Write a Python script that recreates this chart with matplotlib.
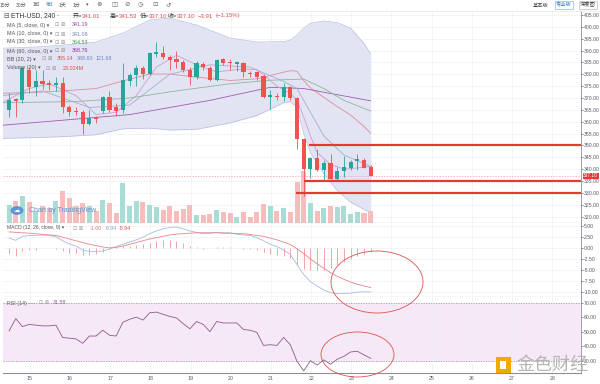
import matplotlib
matplotlib.use("Agg")
import matplotlib.pyplot as plt
from matplotlib.patches import Ellipse, Rectangle, Circle

plt.rcParams['font.family'] = ['Liberation Sans', 'Noto Sans CJK SC', 'DejaVu Sans']

## candle data (4h)
opens = [365, 369.5, 369, 382, 374.5, 377, 376.2, 375.5, 376.2, 366,
         364.7, 364.3, 359.2, 361.8, 364.7, 370.3, 366, 365, 377, 379.6,
         382.5, 380, 388.5, 389, 387.2, 386.4, 385, 382, 378.7, 384.2,
         382.5, 377.5, 386.4, 385, 384.4, 384.6, 380.5, 380.8, 379.2, 370.5,
         371, 370.3, 374.5, 369.8, 352.5, 340.2, 344.8, 339.7, 342.7, 336,
         339, 340.6, 343.6, 344, 341.01]
highs = [372, 370, 383, 383, 382, 382, 377.5, 379, 379, 367,
         366, 365, 365, 362.5, 371, 373, 368, 384.7, 380.5, 384,
         383.5, 389.5, 393.6, 392, 388, 390, 386, 383, 385.5, 385,
         383.5, 386.5, 387, 386.5, 385.5, 385.2, 381.5, 381.5, 380, 373.2,
         372, 376.3, 375, 370.5, 353, 345, 348.6, 344, 346.5, 341,
         345.5, 344, 346.5, 344.5, 341.53]
lows = [362, 362, 368, 372, 371, 373.6, 373.5, 373, 363.5, 362.5,
        363, 355, 358.5, 359.5, 363.6, 364, 362.5, 363.5, 375, 375,
        378, 379.5, 387.5, 386.5, 382, 382.8, 381, 375.3, 378, 381.8,
        377, 377, 384, 382, 381.5, 378.7, 379, 377.5, 370, 365.2,
        369, 368.7, 369, 348.6, 328.7, 336.4, 339, 335.5, 335.8, 335.5,
        336.5, 339.5, 339.8, 340.5, 337.1]
closes = [369, 368.8, 382.5, 374.5, 377, 375.8, 375.3, 376.5, 366, 364.3,
          364.2, 359.2, 361.4, 361, 370.3, 365, 364.7, 377.5, 379.6, 382.5,
          380, 389, 389.3, 387.2, 386, 385, 382, 378.7, 384.6, 383,
          377.5, 386, 384.6, 384.6, 385, 380.8, 380.2, 378.7, 370.3, 371.2,
          370.5, 374.5, 369.8, 352.5, 340.2, 344.8, 339.7, 342.7, 336, 339.3,
          341, 343.1, 344.4, 340.6, 337.1]
volumes = [18, 22, 27, 21, 12, 17, 15, 22, 32, 25, 17, 20, 17, 12, 23, 20, 10, 40, 17, 22,
           21, 18, 16, 13, 17, 12, 14, 18, 8, 8, 9, 13, 11, 10, 6, 11, 6, 11, 19, 17,
           12, 15, 11, 41, 52, 20, 12, 15, 17, 16, 17, 9, 11, 10, 12]

## bollinger bands (20, 2), sampled along the chart
bb_idx = [-1, 4, 8, 13, 17, 21, 24, 28, 33, 37, 41, 42, 43, 44, 45, 47, 49, 51, 53, 54]
bb_upper = [391, 391.5, 392.3, 393.6, 397.4, 402.9, 403.7, 400.8, 395.3, 393.6,
            393.8, 394.4, 396.5, 399.5, 401.5, 402.5, 401.8, 399.5, 393, 388.6]
bb_lower = [353, 353.3, 353.7, 354.5, 357, 357.3, 356.5, 356.8, 359.5, 362.6,
            368, 368.5, 366, 355, 347, 338, 331, 326, 323, 321.7]
bb_basis = [372, 372.4, 373, 374, 377.2, 380.1, 380.1, 378.8, 377.4, 378.1,
            380.9, 381.5, 381.3, 377.3, 374.3, 370.3, 366.4, 362.8, 358, 355.1]

## moving averages
ma5_idx = [-1, 3, 6, 10, 13, 16, 19, 22, 25, 28, 31, 34, 37, 40, 42, 43, 44, 45, 46, 48, 50, 52, 54]
ma5 = [368, 374, 376, 371, 363, 364, 371, 383, 388, 384, 381, 382, 382, 375, 372, 369, 362, 354, 347, 342, 340, 340.5, 341.2]
ma10_idx = [-1, 5, 12, 18, 24, 30, 36, 41, 43, 45, 47, 50, 54]
ma10 = [371, 373, 366, 367, 380, 384, 383, 377, 374, 364, 354, 346, 341.1]
ma30_idx = [-1, 10, 18, 25, 33, 39, 44, 47, 50, 54]
ma30 = [368, 368.5, 370, 373, 376, 377.5, 378, 374, 369, 364.5]
ma60_idx = [-1, 18, 30, 39, 44, 54]
ma60 = [358.5, 363, 369, 374.5, 374, 368.8]

## MACD (12, 26, 9)
macd = [2.2, 1.7, 2.6, 2.8, 2.8, 2.9, 2.8, 2.5, 1.6, 0.9, 0.4, -0.5, -0.8, -0.8, -0.7, -0.3, 0.3, 0.8, 1.3, 1.8,
        2.4, 3.2, 3.8, 4.3, 4.6, 4.7, 4.3, 3.8, 3.5, 3.2, 3.3, 3.5, 3.4, 3.4, 3.1, 2.9, 2.8, 2.3, 1.6, 0.8,
        0.3, -0.5, -1.5, -3.8, -6.0, -7.6, -8.6, -9.5, -10.1, -10.3, -10.3, -10.2, -10.0, -9.9, -9.94]
signal = [3.6, 3.5, 3.4, 3.3, 3.2, 3.0, 2.9, 2.8, 2.4, 2.0, 1.6, 1.2, 0.8, 0.5, 0.2, 0.0, 0.1, 0.4, 0.8, 1.2,
          1.6, 2.0, 2.3, 2.6, 2.9, 3.1, 3.2, 3.3, 3.4, 3.4, 3.4, 3.4, 3.3, 3.3, 3.2, 3.2, 3.0, 2.8, 2.6, 2.2,
          1.8, 1.3, 0.75, -0.2, -1.3, -2.5, -3.6, -4.6, -5.6, -6.4, -7.1, -7.7, -8.2, -8.6, -8.94]
hist = [-1.4, -1.8, -0.8, -0.5, -0.4, -0.1, -0.1, -0.3, -0.8, -1.1, -1.2, -1.7, -1.6, -1.3, -0.9, -0.3, 0.2, 0.4, 0.5, 0.6,
        0.8, 1.2, 1.5, 1.7, 1.7, 1.6, 1.1, 0.5, 0.1, -0.2, -0.1, 0.1, 0.1, 0.1, -0.1, -0.3, -0.2, -0.5, -1.0, -1.4,
        -1.5, -1.8, -2.2, -3.6, -4.7, -5.1, -5.0, -4.9, -4.5, -3.9, -3.2, -2.5, -1.8, -1.3, -1.0]

## RSI (14)
rsi = [50.5, 59, 53.5, 55, 54.5, 54, 54, 54.5, 46, 45.5, 45, 42, 47, 47, 51, 47.5, 47, 56.5, 58.5, 60,
       58, 63, 63.5, 62, 60.5, 59.5, 55.5, 52, 57, 55, 50, 57, 56, 56, 56, 51.5, 51, 49.5, 40.5, 41,
       40.5, 46, 41, 29.5, 23, 30, 27, 30.5, 27.5, 31, 33, 36, 36.5, 34, 31.6]

days = [15, 16, 17, 18, 19, 20, 21, 22, 23, 24, 25, 26, 27, 28]
price_ticks = list(range(320, 406, 5))
macd_ticks = [5, 2.5, 0, -2.5, -5, -7.5, -10]
rsi_ticks = [70, 60, 50, 40, 30]
levels = [(350, 44.8), (335, 44.0), (330, 42.8)]   # price, start candle
last_price = 337.10

UP = '#26a69a'
DOWN = '#ef5350'
GRID = '#eef0f6'
AXC = '#555a66'

fig = plt.figure(figsize=(6, 3.84), dpi=100)

def fx(x):
    return x / 600.0

def fy(y):
    return 1 - y / 384.0

XMIN, XMAX = -0.9, 85.4
day_pos = [3.1 + 6 * (d - 15) for d in days]
idx = list(range(len(closes)))

def style_axis(a):
    a.set_xlim(XMIN, XMAX)
    a.yaxis.tick_right()
    a.tick_params(axis='y', labelsize=3.7, colors=AXC, length=1.5, width=0.5, pad=0.8)
    a.tick_params(axis='x', length=0, labelbottom=False)
    for s in ['top', 'left']:
        a.spines[s].set_visible(False)
    a.spines['right'].set_color('#8a8f9a')
    a.spines['right'].set_linewidth(0.6)
    a.spines['bottom'].set_color('#8a8f9a')
    a.spines['bottom'].set_linewidth(0.8)
    a.set_xticks(day_pos)
    a.grid(True, color=GRID, lw=0.5)
    a.set_axisbelow(True)

## ---------- main price panel ----------
ax = fig.add_axes([fx(3), fy(222.7), fx(578), fy(11) - fy(222.7)])
style_axis(ax)
ax.set_ylim(317.4, 406.7)
ax.set_yticks(price_ticks)
ax.set_yticklabels(['%.2f' % p for p in price_ticks])

ax.fill_between(bb_idx, bb_lower, bb_upper, color='#e3e4f3', lw=0, zorder=1)
ax.plot(bb_idx, bb_upper, color='#b9bde0', lw=0.5, zorder=1)
ax.plot(bb_idx, bb_lower, color='#b9bde0', lw=0.5, zorder=1)
ax.plot(bb_idx, bb_basis, color='#e08aa0', lw=0.6, zorder=2)
ax.plot(ma60_idx, ma60, color='#a05ab0', lw=0.6, zorder=2)
ax.plot(ma30_idx, ma30, color='#8fb59a', lw=0.6, zorder=2)
ax.plot(ma10_idx, ma10, color='#9fb0cc', lw=0.6, zorder=2)
ax.plot(ma5_idx, ma5, color='#c9a0c9', lw=0.6, zorder=2)

vol_top = 211.7
vcol = ['#a8dcd5' if c >= o else '#f7bdbd' for o, c in zip(opens, closes)]
ax.bar(idx, [v / vol_top for v in volumes], width=0.75, color=vcol,
       transform=ax.get_xaxis_transform(), zorder=2)

for i in idx:
    col = UP if closes[i] >= opens[i] else DOWN
    ax.vlines(i, lows[i], highs[i], color=col, lw=0.6, zorder=3)
    lo = min(opens[i], closes[i])
    hgt = max(abs(closes[i] - opens[i]), 0.35)
    ax.add_patch(Rectangle((i - 0.31, lo), 0.62, hgt, color=col, lw=0, zorder=4))

ax.axhline(last_price, color='#f19a9a', lw=0.5, ls=(0, (2, 2)), zorder=2)
for p, start in levels:
    ax.hlines(p, start, XMAX, color='#e53935', lw=1.6, zorder=5)
ax.annotate('%.2f' % last_price, xy=(1.004, last_price), xycoords=('axes fraction', 'data'),
            fontsize=3.5, color='white', va='center', ha='left',
            bbox=dict(boxstyle='square,pad=0.15', fc='#e53935', ec='none'), annotation_clip=False)

## ---------- MACD panel ----------
mx = fig.add_axes([fx(3), fy(297), fx(578), fy(222.7) - fy(297)])
style_axis(mx)
mx.set_ylim(-11.08, 5.67)
mx.set_yticks(macd_ticks)
mx.set_yticklabels(['%.2f' % v for v in macd_ticks])
mx.vlines(idx, 0, hist, color='#f2a5a5', lw=0.7)
mx.plot(idx, macd, color='#a9bbd6', lw=0.6)
mx.plot(idx, signal, color='#e98585', lw=0.6)

## ---------- RSI panel ----------
rx = fig.add_axes([fx(3), fy(373), fx(578), fy(297) - fy(373)])
style_axis(rx)
rx.set_ylim(21.5, 73.9)
rx.set_yticks(rsi_ticks)
rx.set_yticklabels(['%.2f' % v for v in rsi_ticks])
rx.axhspan(30, 70, color='#f6e8f6', lw=0, zorder=0)
rx.axhline(70, color='#a0a0a8', lw=0.6, ls=(0, (1.5, 1.5)))
rx.axhline(30, color='#a0a0a8', lw=0.6, ls=(0, (1.5, 1.5)))
rx.plot(idx, rsi, color='#8e5a8e', lw=0.6)
rx.tick_params(axis='x', labelbottom=True, labelsize=3.8, colors=AXC, pad=2)
rx.set_xticklabels([str(d) for d in days])

## ---------- toolbar / header texts ----------
def t(x, y, s, **kw):
    kw.setdefault('fontsize', 4.2)
    kw.setdefault('color', '#444')
    kw.setdefault('va', 'center')
    fig.text(fx(x), fy(y), s, **kw)

fig.add_artist(plt.Line2D([0, 1], [fy(10.5), fy(10.5)], color='#e4e6ea', lw=0.5))
tools = [(0, '15分'), (16, '30分'), (33, '1时'), (46, '4时'), (59, '1天'), (73, '1分')]
for x, s in tools:
    t(x, 5, s, fontsize=3.6, color='#2f7ad8' if s == '4时' else '#555')
t(86, 5, '▾', family='DejaVu Sans', fontsize=3.6, color='#555')
for x, s in zip([96, 111, 124, 138, 152, 165], ['⊗', '◫', '⊘', '◷', '⊡', '↺']):
    t(x, 5, s, family='DejaVu Sans', fontsize=4.6, color='#666')
t(533, 5, '基本版', fontsize=3.8)
t(556, 5, '专业版', fontsize=3.8, color='#2f7ad8',
  bbox=dict(boxstyle='square,pad=0.25', fc='white', ec='#8fb4e8', lw=0.5))
t(580, 5, '深度图', fontsize=3.8,
  bbox=dict(boxstyle='square,pad=0.25', fc='white', ec='#bbb', lw=0.5))

t(3, 16, '⊟', family='DejaVu Sans', fontsize=4.8, color='#555')
t(11, 16, 'ETH-USD, 240 ·', fontsize=4.8, color='#333')
red = '#e0524f'
for x, k, v in [(73, '开=', '341.01'), (110, '高=', '341.53'), (140, '低=', '337.10'), (168, '收=', '337.10')]:
    t(x, 16, k, fontsize=4.3, color='#333')
    t(x + 9, 16, v, fontsize=4.3, color=red)
t(198, 16, '\u22123.91', fontsize=4.3, color=red)
t(216, 16, '(\u22121.15%)', fontsize=4.3, color=red)

legend_rows = [(25, 'MA (5, close, 0)', [(72, '341.19', '#8e4a9a')]),
               (34, 'MA (10, close, 0)', [(72, '341.08', '#6f86b8')]),
               (42, 'MA (30, close, 0)', [(72, '364.53', '#3f9a55')]),
               (51, 'MA (60, close, 0)', [(72, '368.76', '#8e2a9a')]),
               (59, 'BB (20, 2)', [(57, '355.14', '#d9534f'), (77, '388.60', '#6f86b8'), (96, '121.68', '#6f86b8')]),
               (68, 'Volume (20)', [(63, '23.024M', '#d9534f')])]
for y, name, vals in legend_rows:
    t(7, y, name + ' ▾', fontsize=3.9, color='#555', family=['Liberation Sans', 'DejaVu Sans'])
    ix = 55 if name.startswith('MA') else (42 if name.startswith('BB') else 46)
    t(ix, y, '⊡ ⊠', family='DejaVu Sans', fontsize=3.8, color='#999')
    for x, s, c in vals:
        t(x, y, s, fontsize=3.9, color=c)

t(7, 228, 'MACD (12, 26, close, 9) ▾', fontsize=3.6, color='#555', family=['Liberation Sans', 'DejaVu Sans'])
t(73, 228, '⊡ ⊠', family='DejaVu Sans', fontsize=3.6, color='#999')
t(90, 228, '-1.00', fontsize=3.8, color='#e57373')
t(105, 228, '-9.94', fontsize=3.8, color='#8ea3c8')
t(119, 228, '-8.94', fontsize=3.8, color='#d9534f')

t(7, 303, 'RSI (14) ····', fontsize=3.8, color='#555')
t(39, 303, '⊡ ⊠', family='DejaVu Sans', fontsize=3.6, color='#999')
t(53, 303, '31.58', fontsize=3.8, color='#8e5a8e')

## TradingView watermark
fig.add_artist(Circle((fx(17), fy(210.5)), 0.0095, transform=fig.transFigure, color='#4f8fd6', alpha=0.85))
t(13.5, 210.5, '☁', family='DejaVu Sans', fontsize=4.5, color='white')
t(29, 210.5, 'Chart by TradingView', fontsize=5, color='#5b8fd0')

## site watermark bottom right
fig.add_artist(Rectangle((fx(496), fy(373)), fx(15), fy(357) - fy(373), transform=fig.transFigure,
                         color='#f2a900', lw=0))
fig.add_artist(Rectangle((fx(500), fy(369)), fx(6), fy(361) - fy(369), transform=fig.transFigure,
                         color='white', lw=0))
t(516, 365, '金色财经', fontsize=13, color='#b4b4b4')

## annotation circles
fig.add_artist(Ellipse((fx(377), fy(282)), fx(92), 62 / 384.0, transform=fig.transFigure,
                       fill=False, ec='#d9534f', lw=0.6))
fig.add_artist(Ellipse((fx(357.5), fy(354.5)), fx(73), 45 / 384.0, transform=fig.transFigure,
                       fill=False, ec='#d9534f', lw=0.6))

fig.savefig('out.png', dpi=100)
